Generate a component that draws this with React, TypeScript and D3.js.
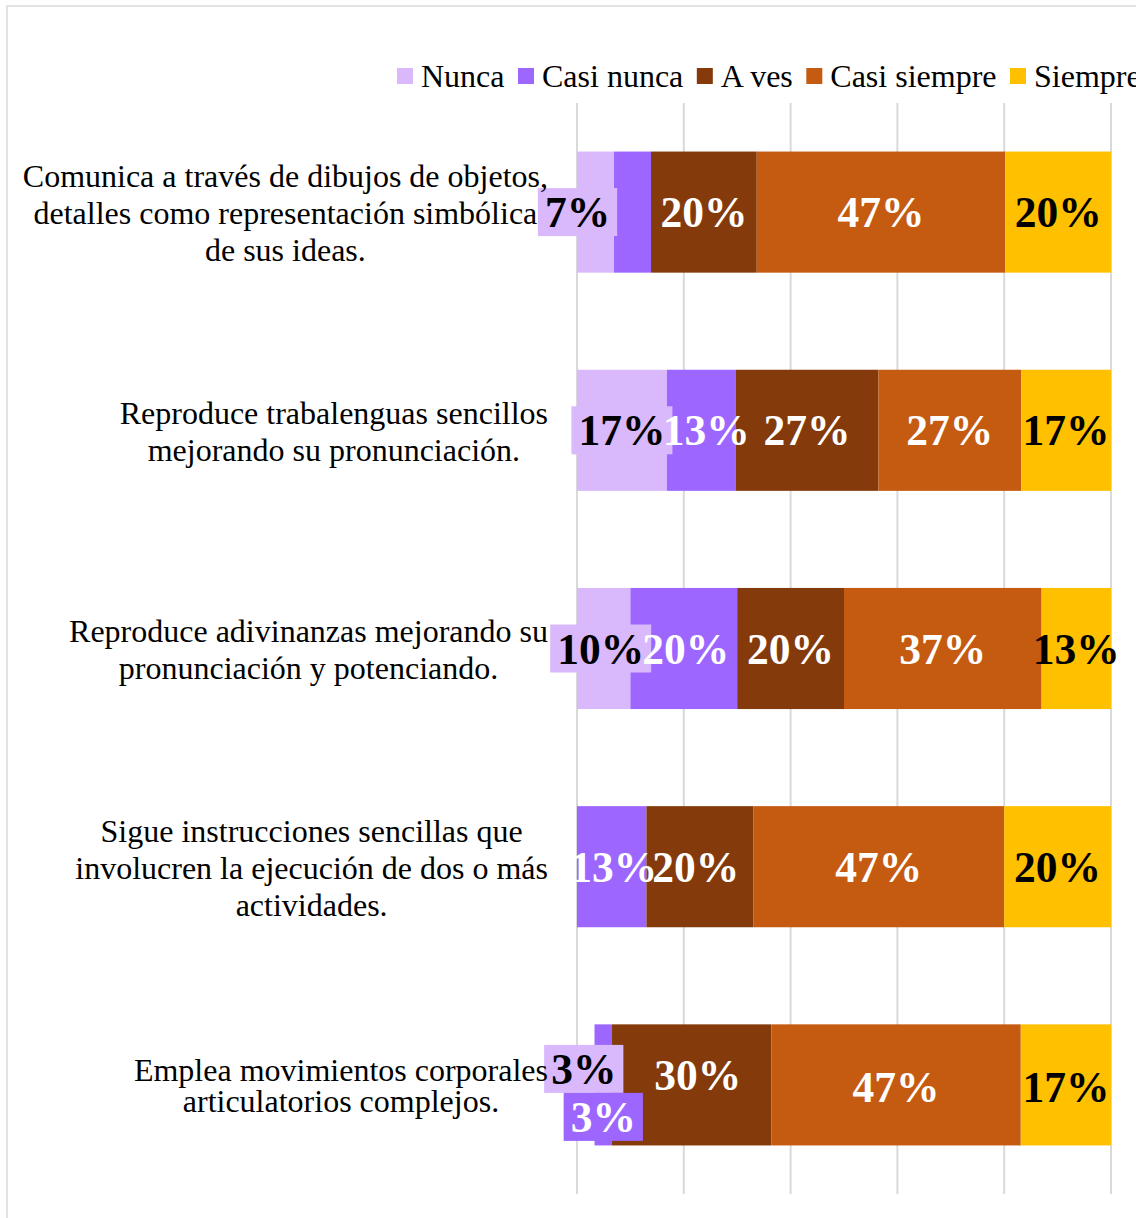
import React, {useEffect, useRef} from 'react';
import * as d3 from 'd3';

// Data
const categories = [
    ['Comunica a través de dibujos de objetos,', 'detalles como representación simbólica', 'de sus ideas.'],
    ['Reproduce trabalenguas sencillos', 'mejorando su pronunciación.'],
    ['Reproduce adivinanzas mejorando su', 'pronunciación y potenciando.'],
    ['Sigue instrucciones sencillas que', 'involucren la ejecución de dos o más', 'actividades.'],
    ['Emplea movimientos corporales', 'articulatorios complejos.'],
];
const seriesNames = ['Nunca', 'Casi nunca', 'A ves', 'Casi siempre', 'Siempre'];
const nunca = [7, 17, 10, 0, 3.3];
const casiNunca = [7, 13, 20, 13, 3.3];
const aVes = [20, 27, 20, 20, 30];
const casiSiempre = [47, 27, 37, 47, 47];
const siempre = [20, 17, 13, 20, 17];
const xTicks = [0, 20, 40, 60, 80, 100];

const colors = ['#D9B8FC', '#9D66FF', '#843A0B', '#C55A11', '#FFC000'];
const labelColors = ['#000', '#fff', '#fff', '#fff', '#000'];

// label tweaks (Excel labels moved by hand in the original)
const nudge: Record<string, [number, number]> = {
    '0-0': [-18, 0],
    '1-1': [5, 0],
    '2-0': [-3, 0],
    '2-1': [2, 0],
    '3-1': [2, 0],
    '3-2': [-4, 0],
    '4-0': [-2, -16],
    '4-1': [0, 32],
    '4-2': [6, -10],
    '4-3': [0, 2],
    '4-4': [0, 2],
};
const hiddenLabels = new Set(['0-1']);
const hiddenBars = new Set(['4-0']);
const lineGap = [37, 37, 37, 37, 31];

const W = 1136;
const H = 1218;
const FONT = '"Liberation Serif", "Times New Roman", serif';

const App = () => {
    const svgRef = useRef<SVGSVGElement>(null);

    useEffect(() => {
        const svg = d3.select(svgRef.current);
        svg.selectAll('*').remove();

        const plot = {left: 577, right: 1111, top: 103, bottom: 1194};

        const rows = categories.map((c, i) => ({
            i,
            v0: nunca[i], v1: casiNunca[i], v2: aVes[i], v3: casiSiempre[i], v4: siempre[i],
        }));
        const keys = ['v0', 'v1', 'v2', 'v3', 'v4'];
        const stack = d3.stack<any>().keys(keys).offset(d3.stackOffsetExpand);
        const stacked = stack(rows);

        const x = d3.scaleLinear().domain([0, 1]).range([plot.left, plot.right]);
        const xPct = d3.scaleLinear().domain([0, 100]).range([plot.left, plot.right]);
        const y = d3.scaleBand<number>()
            .domain(d3.range(categories.length))
            .range([plot.top, plot.bottom])
            .paddingInner(0.445)
            .paddingOuter(0.2225);

        // chart border
        svg.append('rect')
            .attr('x', 7).attr('y', 6)
            .attr('width', W + 50).attr('height', H + 50)
            .attr('fill', '#fff')
            .attr('stroke', '#D9D9D9')
            .attr('stroke-width', 1.5);

        // gridlines
        svg.append('g')
            .selectAll('line')
            .data(xTicks)
            .join('line')
            .attr('x1', d => xPct(d)).attr('x2', d => xPct(d))
            .attr('y1', plot.top).attr('y2', plot.bottom)
            .attr('stroke', '#D9D9D9')
            .attr('stroke-width', 2);

        // bars
        stacked.forEach((layer, s) => {
            svg.append('g')
                .selectAll('rect')
                .data(layer)
                .join('rect')
                .attr('x', d => x(d[0]))
                .attr('y', (d: any) => y(d.data.i)!)
                .attr('width', d => x(d[1]) - x(d[0]))
                .attr('height', y.bandwidth())
                .attr('fill', (d: any) => hiddenBars.has(`${d.data.i}-${s}`) ? 'none' : colors[s]);
        });

        // data labels
        const labels = svg.append('g')
            .attr('font-family', FONT)
            .attr('font-weight', 'bold')
            .attr('font-size', 43.5);
        stacked.forEach((layer, s) => {
            layer.forEach((d: any) => {
                const i = d.data.i;
                const key = `${i}-${s}`;
                const val = d.data[keys[s]];
                if (!val || hiddenLabels.has(key)) return;
                const [dx, dy] = nudge[key] || [0, 0];
                const cx = (x(d[0]) + x(d[1])) / 2 + dx;
                const cy = y(i)! + y.bandwidth() / 2 + dy;
                const g = labels.append('g');
                const boxed = s === 0 || key === '4-1';
                const rect = g.append('rect').attr('fill', colors[s]);
                const t = g.append('text')
                    .attr('x', cx)
                    .attr('y', cy + 15)
                    .attr('text-anchor', 'middle')
                    .attr('fill', labelColors[s])
                    .text(`${Math.round(val)}%`);
                if (boxed) {
                    const w = (t.node() as SVGTextElement).getComputedTextLength();
                    rect.attr('x', cx - w / 2 - 7).attr('y', cy - 24)
                        .attr('width', w + 14).attr('height', 48);
                } else {
                    rect.remove();
                }
            });
        });

        // category labels
        const cat = svg.append('g')
            .attr('font-family', FONT)
            .attr('font-size', 32)
            .attr('fill', '#000');
        categories.forEach((lines, i) => {
            const gap = lineGap[i];
            const mid = y(i)! + y.bandwidth() / 2 + 1;
            const top = mid - (gap * (lines.length - 1)) / 2;
            const texts = lines.map((ln, k) => cat.append('text')
                .attr('y', top + k * gap + 11)
                .attr('text-anchor', 'middle')
                .text(ln));
            const maxW = d3.max(texts, t => (t.node() as SVGTextElement).getComputedTextLength()) || 0;
            texts.forEach(t => t.attr('x', 548 - maxW / 2));
        });

        // legend
        const legend = svg.append('g')
            .attr('font-family', FONT)
            .attr('font-size', 32);
        let lx = 397;
        seriesNames.forEach((name, s) => {
            legend.append('rect')
                .attr('x', lx).attr('y', 68)
                .attr('width', 16).attr('height', 16)
                .attr('fill', colors[s]);
            const t = legend.append('text')
                .attr('x', lx + 24)
                .attr('y', 87)
                .attr('fill', '#000')
                .text(name);
            lx += 24 + (t.node() as SVGTextElement).getComputedTextLength() + 13.5;
        });
    }, []);

    return (
        <div>
            <svg ref={svgRef} width={W} height={H}
                 style={{position: 'absolute', left: 0, top: 0, background: '#fff'}}></svg>
        </div>
    );
};

export default App;
